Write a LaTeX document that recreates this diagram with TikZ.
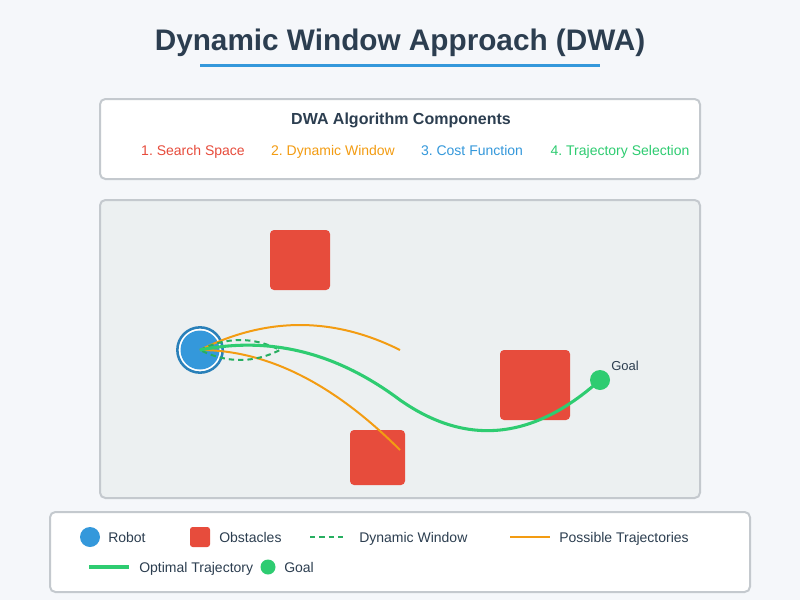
\documentclass[tikz,border=0pt]{standalone}
\usepackage{fontspec}
\setmainfont{Liberation Sans}
\usetikzlibrary{positioning}
\definecolor{bg}{HTML}{F5F7FA}
\definecolor{ink}{HTML}{2C3E50}
\definecolor{frame}{HTML}{C4C9CE}
\definecolor{env}{HTML}{ECF0F1}
\definecolor{red}{HTML}{E74C3C}
\definecolor{orange}{HTML}{F39C12}
\definecolor{blue}{HTML}{3498DB}
\definecolor{darkblue}{HTML}{2980B9}
\definecolor{green}{HTML}{2ECC71}
\definecolor{darkgreen}{HTML}{27AE60}
\frenchspacing
\tikzset{
  panel/.style={draw=frame,line width=1.5pt,fill=white,rounded corners=4pt},
  obstacle/.style={fill=red,rounded corners=3pt},
  possible/.style={orange,line width=1.5pt},
  optimal/.style={green,line width=2.3pt},
  window/.style={darkgreen,line width=1.5pt,dash pattern=on 4pt off 3pt},
  comp/.style={font=\fontsize{10.5}{12}\selectfont,anchor=base,inner sep=0pt},
  item/.style={font=\fontsize{10.5}{12}\selectfont,anchor=base west,inner sep=0pt,text=ink}
}
\begin{document}
\begin{tikzpicture}[x=0.75pt,y=-0.75pt]
  \pgfmathsetmacro\r{19.5}
  % background:
  \fill[bg] (0,0) rectangle (800,600);
  \useasboundingbox (0,0) rectangle (800,600);
  % title:
  \node[font=\fontsize{22.3}{26}\selectfont\bfseries,text=ink,anchor=base,inner sep=0pt] (title) at (400,50) {Dynamic Window Approach (DWA)};
  \draw[blue,line width=2.25pt] (200,65) -- (600,65);
  % components panel:
  \draw[panel] (100,99) rectangle (700,179);
  \node[font=\fontsize{12}{14}\selectfont\bfseries,text=ink,anchor=base,inner sep=0pt] (comptitle) at (401,124.5) {DWA Algorithm Components};
  \node[comp,text=red] (c1) at (193,155) {1. Search Space};
  \node[comp,text=orange] (c2) at (333,155) {2. Dynamic Window};
  \node[comp,text=blue] (c3) at (472,155) {3. Cost Function};
  \node[comp,text=green] (c4) at (620,155) {4. Trajectory Selection};
  % environment:
  \draw[draw=frame,line width=1.5pt,fill=env,rounded corners=4pt] (100,200) rectangle (700,498);
  % obstacles:
  \fill[obstacle] (270,230) rectangle (330,290);
  \fill[obstacle] (500,350) rectangle (570,420);
  \fill[obstacle] (350,430) rectangle (405,485);
  % robot:
  \node[circle,draw=darkblue,line width=1.9pt,fill=white,minimum size=34pt,inner sep=0pt] (robot) at (200,350) {};
  \fill[blue] (robot.center) circle (\r);
  % goal:
  \node[circle,fill=green,minimum size=15pt,inner sep=0pt] (goal) at (600,380) {};
  \node[font=\fontsize{9.75}{11}\selectfont,text=ink,anchor=base west,inner sep=0pt] (goallabel) at (611,370) {Goal};
  % possible trajectories:
  \coordinate (upper) at (400,350);
  \coordinate (lower) at (400,450);
  \draw[possible] (robot.center) .. controls (266.7,316.7) and (333.3,316.7) .. (upper);
  \draw[possible] (robot.center) .. controls (266.7,350) and (333.3,383.3) .. (lower);
  % dynamic window:
  \coordinate (dw) at (280,350);
  \draw[window] (robot.center) .. controls (226.7,336.7) and (253.3,336.7) .. (dw)
    .. controls (253.3,363.3) and (226.7,363.3) .. (robot.center);
  % optimal trajectory:
  \draw[optimal] (robot.center) .. controls (266.7,336.7) and (333.3,350) .. (400,400)
    .. controls (466.7,446.7) and (533.3,440) .. (goal.center);
  % legend:
  \draw[panel] (50,512) rectangle (750,592);
  \fill[blue] (90,537) circle (10);
  \node[item] (lrobot) at (108,542) {Robot};
  \fill[red,rounded corners=2pt] (190,527) rectangle (210,547);
  \node[item] (lobst) at (219,542) {Obstacles};
  \draw[window] (310,537) -- (346,537);
  \node[item] (lwin) at (359,542) {Dynamic Window};
  \draw[possible] (510,537) -- (550,537);
  \node[item] (lposs) at (559,542) {Possible Trajectories};
  \draw[optimal] (89,567) -- (129,567);
  \node[item] (lopt) at (139,572) {Optimal Trajectory};
  \fill[green] (268,567) circle (7.5);
  \node[item] (lgoal) at (284,572) {Goal};
\end{tikzpicture}
\end{document}
